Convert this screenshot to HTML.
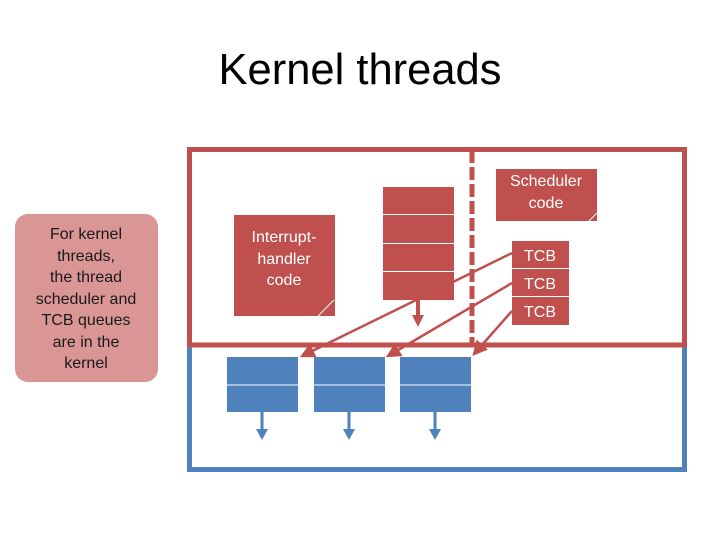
<!DOCTYPE html>
<html><head><style>html,body{margin:0;padding:0;background:#fff;}svg{display:block}</style></head>
<body>
<svg width="720" height="540" viewBox="0 0 720 540" xmlns="http://www.w3.org/2000/svg" font-family="Liberation Sans, Arial, sans-serif">
<defs>
<marker id="ar" markerWidth="6" markerHeight="6" refX="5" refY="3" orient="auto" markerUnits="strokeWidth"><path d="M0,0 L6,3 L0,6 z" fill="#c0504d"/></marker>
</defs>
<text x="360" y="84" font-size="44" text-anchor="middle" textLength="283" lengthAdjust="spacingAndGlyphs" fill="#000">Kernel threads</text>
<!-- left note -->
<rect x="15" y="214" width="143" height="168" rx="13" fill="#d99694"/>
<g font-size="16" fill="#1a1a1a" text-anchor="middle">
<text x="86" y="239">For kernel</text>
<text x="86" y="261">threads,</text>
<text x="86" y="282">the thread</text>
<text x="86" y="304">scheduler and</text>
<text x="86" y="325">TCB queues</text>
<text x="86" y="347">are in the</text>
<text x="86" y="368">kernel</text>
</g>
<!-- blue box -->
<path d="M189.5,345 V469.5 H684.5 V345" fill="none" stroke="#4f81bd" stroke-width="5"/>
<!-- red box -->
<rect x="189.5" y="149.5" width="495" height="195.5" fill="none" stroke="#c0504d" stroke-width="5"/>
<line x1="472" y1="150" x2="472" y2="345" stroke="#c0504d" stroke-width="5" stroke-dasharray="13,4"/>
<!-- scheduler code -->
<rect x="496" y="169" width="101" height="52" fill="#c0504d"/>
<g font-size="16" fill="#fff" text-anchor="middle">
<text x="546" y="186">Scheduler</text>
<text x="546" y="208">code</text>
</g>
<path d="M589,221 L597,213" stroke="#fff" stroke-width="1"/>
<!-- interrupt handler -->
<rect x="234" y="215" width="101" height="101" fill="#c0504d"/>
<g font-size="16" fill="#fff" text-anchor="middle">
<text x="284" y="242">Interrupt-</text>
<text x="284" y="264">handler</text>
<text x="284" y="285">code</text>
</g>
<path d="M318,316 L334,300" stroke="#fff" stroke-width="1"/>
<!-- red stack -->
<rect x="383" y="187" width="71" height="113" fill="#c0504d"/>
<g stroke="#fff" stroke-width="1"><line x1="383" y1="214.5" x2="454" y2="214.5"/><line x1="383" y1="243.5" x2="454" y2="243.5"/><line x1="383" y1="271.5" x2="454" y2="271.5"/></g>
<line x1="418" y1="300" x2="418" y2="316" stroke="#c0504d" stroke-width="4"/>
<path d="M412,315 L424,315 L418,327 z" fill="#c0504d"/>
<!-- TCB -->
<rect x="512" y="241" width="57" height="84" fill="#c0504d"/>
<g stroke="#fff" stroke-width="1"><line x1="512" y1="268.5" x2="569" y2="268.5"/><line x1="512" y1="296.5" x2="569" y2="296.5"/></g>
<g font-size="16" fill="#fff" text-anchor="middle">
<text x="540" y="261">TCB</text>
<text x="540" y="289">TCB</text>
<text x="540" y="317">TCB</text>
</g>
<!-- blue boxes -->
<g fill="#4f81bd">
<rect x="227" y="357" width="71" height="55"/>
<rect x="314" y="357" width="71" height="55"/>
<rect x="400" y="357" width="71" height="55"/>
</g>
<g stroke="#fff" stroke-width="1"><line x1="227" y1="385" x2="298" y2="385"/><line x1="314" y1="385" x2="385" y2="385"/><line x1="400" y1="385" x2="471" y2="385"/></g>
<g stroke="#4f81bd" stroke-width="3">
<line x1="262" y1="412" x2="262" y2="430"/><line x1="349" y1="412" x2="349" y2="430"/><line x1="435" y1="412" x2="435" y2="430"/>
</g>
<g fill="#4f81bd">
<path d="M256,429 L268,429 L262,440 z"/><path d="M343,429 L355,429 L349,440 z"/><path d="M429,429 L441,429 L435,440 z"/>
</g>
<!-- diagonal arrows -->
<g stroke="#c0504d" stroke-width="2.5" fill="none" marker-end="url(#ar)">
<line x1="512" y1="253" x2="302" y2="356"/>
<line x1="512" y1="283" x2="388" y2="356"/>
<line x1="512" y1="311" x2="474" y2="354"/>
</g>
</svg>
</body></html>
